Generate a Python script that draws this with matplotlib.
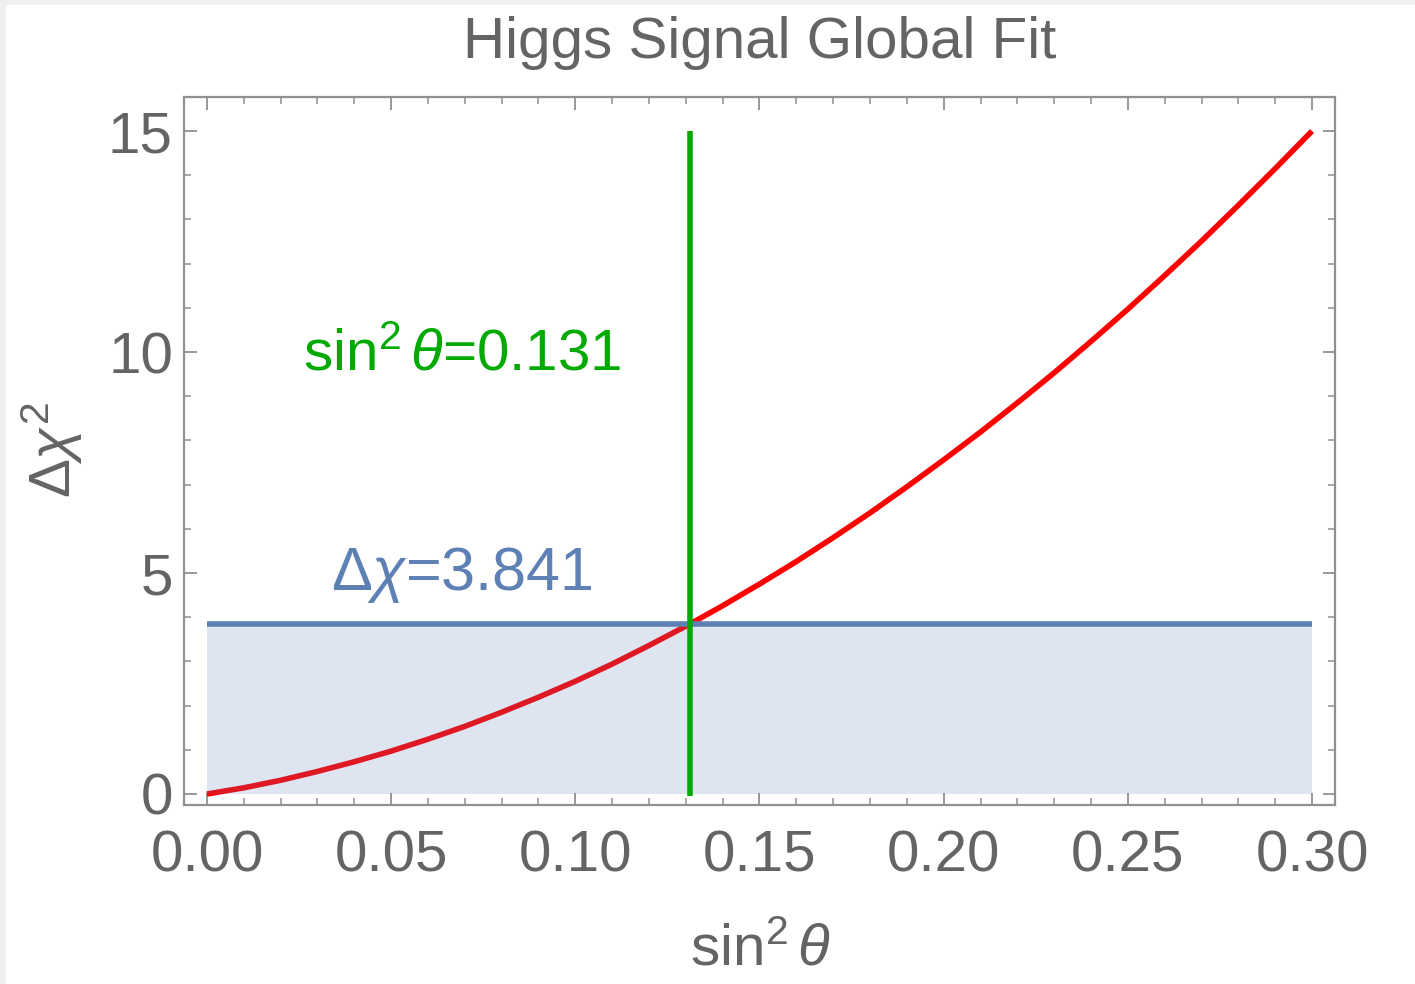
import matplotlib
matplotlib.use("Agg")
import matplotlib.pyplot as plt
from matplotlib.ticker import MultipleLocator, FormatStrFormatter
from matplotlib.patches import Rectangle

# Global fit scan: delta chi^2 versus sin^2(theta)
sin2_theta = [0.00, 0.01, 0.02, 0.03, 0.04, 0.05, 0.06, 0.07, 0.08, 0.09,
              0.10, 0.11, 0.12, 0.131, 0.14, 0.15, 0.16, 0.17, 0.18, 0.19,
              0.20, 0.21, 0.22, 0.23, 0.24, 0.25, 0.26, 0.27, 0.28, 0.29, 0.30]
delta_chi2 = [0.00, 0.14, 0.31, 0.51, 0.73, 0.97, 1.24, 1.53, 1.85, 2.19,
              2.55, 2.94, 3.36, 3.841, 4.26, 4.75, 5.26, 5.80, 6.36, 6.95,
              7.56, 8.19, 8.85, 9.53, 10.24, 10.97, 11.73, 12.51, 13.32, 14.15, 15.00]

best_fit = 0.131
threshold = 3.841
x_range = [0.00, 0.30]
x_ticks = [0.00, 0.05, 0.10, 0.15, 0.20, 0.25, 0.30]
y_ticks = [0, 5, 10, 15]

TEXT = "#646464"
FRAME = "#909090"
RED = "#ff0000"
BLUE = "#5e81b5"
GREEN = "#00aa00"

plt.rcParams.update({
    "font.family": ["Liberation Sans", "DejaVu Sans"],
    "mathtext.fontset": "custom",
    "mathtext.rm": "Liberation Sans",
    "mathtext.it": "Liberation Sans:italic",
    "mathtext.bf": "Liberation Sans:bold",
})

W, H = 1415, 984
fig = plt.figure(figsize=(W / 100, H / 100), dpi=100)
fig.patch.set_facecolor("white")

# thin grey notebook border along the top and left edges
fig.patches.append(Rectangle((0, 1 - 5 / H), 1, 5 / H, transform=fig.transFigure,
                             facecolor="#efefef", edgecolor="none", zorder=-1))
fig.patches.append(Rectangle((0, 0), 6 / W, 1, transform=fig.transFigure,
                             facecolor="#efefef", edgecolor="none", zorder=-1))

left, right, top, bottom = 184, 1335, 97, 805
ax = fig.add_axes([left / W, 1 - bottom / H, (right - left) / W, (bottom - top) / H])

LW = 4.0
ax.plot(sin2_theta, delta_chi2, color=RED, lw=LW, solid_capstyle="butt", zorder=2)
ax.fill_between(x_range, [0, 0], [threshold, threshold], color=BLUE, alpha=0.2,
                linewidth=0, zorder=3)
ax.plot(x_range, [threshold, threshold], color=BLUE, lw=LW, solid_capstyle="butt", zorder=4)
ax.plot([best_fit, best_fit], [-0.05, 15], color=GREEN, lw=LW, solid_capstyle="butt", zorder=5)

ax.text(0.0692, 9.93, r"sin$^2\,\theta$=0.131", color=GREEN,
        fontsize=42, ha="center", va="center")
ax.text(0.0692, 4.95, r"$\Delta\chi$=3.841", color=BLUE,
        fontsize=44, ha="center", va="center")

ax.set_xlim(-0.00624, 0.30624)
ax.set_ylim(-0.249, 15.77)
ax.set_xticks(x_ticks)
ax.set_yticks(y_ticks)
ax.xaxis.set_major_formatter(FormatStrFormatter("%.2f"))
ax.xaxis.set_minor_locator(MultipleLocator(0.01))
ax.yaxis.set_minor_locator(MultipleLocator(1))

for s in ax.spines.values():
    s.set_color(FRAME)
    s.set_linewidth(1.6)
ax.tick_params(which="both", direction="in", top=True, right=True, color=FRAME,
               labelcolor=TEXT, labelsize=42)
ax.tick_params(which="major", length=9, width=1.3)
ax.tick_params(which="minor", length=5, width=1.1)
ax.tick_params(axis="x", which="major", pad=18)
ax.tick_params(axis="y", which="major", pad=8)

fig.text(759.5 / W, 1 - 43 / H, "Higgs Signal Global Fit", color=TEXT, fontsize=42,
         ha="center", va="center")
fig.text(760 / W, 1 - 950 / H, r"sin$^2\,\theta$", color=TEXT, fontsize=42,
         ha="center", va="center")
fig.text(52 / W, 1 - 450 / H, r"$\Delta\chi^2$", color=TEXT, fontsize=42,
         ha="center", va="center", rotation=90)

fig.savefig("out.png", dpi=100)
